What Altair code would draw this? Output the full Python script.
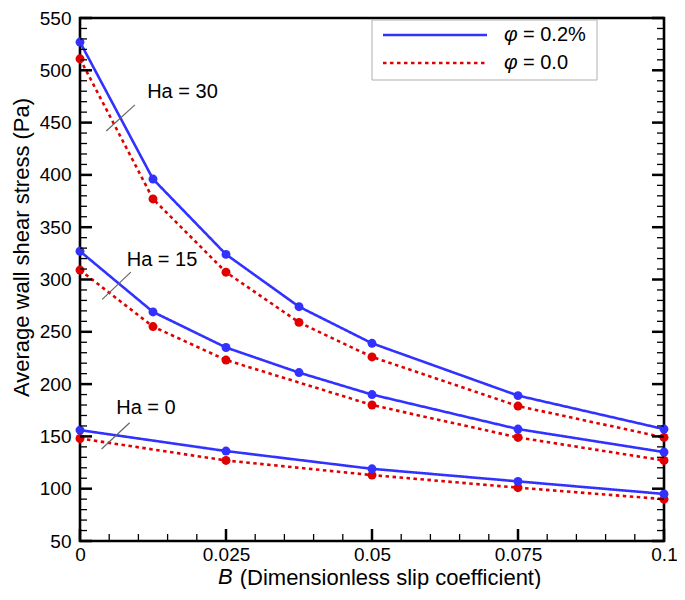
import altair as alt
import pandas as pd

# ---- data ----
B_full = [0, 0.0125, 0.025, 0.0375, 0.05, 0.075, 0.1]
B_ha15_base = [0, 0.0125, 0.025, 0.05, 0.075, 0.1]
B_ha0 = [0, 0.025, 0.05, 0.075, 0.1]

ha30_np = [527, 396, 324, 274, 239, 189, 157]
ha30_base = [511, 377, 307, 259, 226, 179, 149]
ha15_np = [327, 269, 235, 211, 190, 157, 135]
ha15_base = [309, 255, 223, 180, 149, 127]
ha0_np = [156, 136, 119, 107, 95]
ha0_base = [148, 127, 113, 101, 90]

series_names = ["φ = 0.2%", "φ = 0.0"]
series_colors = ["#3232ff", "#e00000"]

# annotations (data coordinates)
ann_labels = ["Ha = 30", "Ha = 15", "Ha = 0"]
ann_text_B = [0.0115, 0.0080, 0.0062]
ann_text_y = [479, 319, 177]
lead_B1 = [0.0045, 0.0038, 0.0037]
lead_y1 = [442, 281, 138]
lead_B2 = [0.0094, 0.0087, 0.0085]
lead_y2 = [467, 307, 163]

y_major = list(range(50, 551, 50))
y_minor = [v for v in range(50, 551, 10) if v % 50 != 0]
x_major = [0, 0.025, 0.05, 0.075, 0.1]
x_minor = [round(i * 0.005, 3) for i in range(21) if i % 5 != 0]

# ---- build tables ----
rows = []
for ha, name, xs_, ys_ in [
    ("30", series_names[1], B_full, ha30_base),
    ("15", series_names[1], B_ha15_base, ha15_base),
    ("0", series_names[1], B_ha0, ha0_base),
    ("30", series_names[0], B_full, ha30_np),
    ("15", series_names[0], B_full, ha15_np),
    ("0", series_names[0], B_ha0, ha0_np),
]:
    for b, s in zip(xs_, ys_):
        rows.append({"B": b, "stress": s, "Ha": ha, "series": name})
df = pd.DataFrame(rows)

ann = pd.DataFrame({"label": ann_labels, "B": ann_text_B, "stress": ann_text_y})
lead = pd.DataFrame({"B": lead_B1, "stress": lead_y1, "B2": lead_B2, "stress2": lead_y2})

W, H = 584, 523
FONT = "Liberation Sans"

xs = alt.Scale(domain=[0, 0.1], nice=False, zero=False)
ys = alt.Scale(domain=[50, 550], nice=False, zero=False)

xaxis = alt.Axis(values=x_major, labelExpr="format(datum.value, '~g')",
                 ticks=False, domain=False, grid=False, labelFlush=False,
                 labelFontSize=19, labelPadding=4, labelColor="black",
                 title="(Dimensionless slip coefficient)", titleFontSize=22,
                 titleFontWeight="normal", titleColor="black",
                 titleX=310, titleY=36, titleAlign="center", titleBaseline="middle")
yaxis = alt.Axis(values=y_major, ticks=False, domain=False, grid=False, labelFlush=False,
                 labelFontSize=19, labelPadding=9, labelColor="black",
                 title="Average wall shear stress (Pa)", titleFontSize=22,
                 titleFontWeight="normal", titleColor="black",
                 titleX=-59, titleY=229, titleAngle=270,
                 titleAlign="center", titleBaseline="middle")

X = alt.X("B:Q", scale=xs, axis=xaxis)
Y = alt.Y("stress:Q", scale=ys, axis=yaxis)

color = alt.Color("series:N", scale=alt.Scale(domain=series_names, range=series_colors), legend=None)
dash = alt.StrokeDash("series:N", scale=alt.Scale(domain=series_names, range=[[1, 0], [3.5, 3.5]]), legend=None)

lines = alt.Chart(df).mark_line(strokeWidth=2.6).encode(
    x=X, y=Y, color=color, strokeDash=dash, detail="Ha:N",
    order=alt.Order("B:Q"))
points = alt.Chart(df).mark_circle(size=80, opacity=1).encode(x=X, y=Y, color=color)

# tick marks (inward)
ymaj = pd.DataFrame({"stress": y_major})
ymin = pd.DataFrame({"stress": y_minor})
xmaj = pd.DataFrame({"B": x_major})
xmin = pd.DataFrame({"B": x_minor})

tick_layers = []
for d, ln, sw in [(ymaj, 12, 2.5), (ymin, 7, 1.3)]:
    tick_layers.append(alt.Chart(d).mark_rule(color="black", strokeWidth=sw).encode(
        y=Y, x=alt.value(0), x2=alt.value(ln)))
    tick_layers.append(alt.Chart(d).mark_rule(color="black", strokeWidth=sw).encode(
        y=Y, x=alt.value(W - ln), x2=alt.value(W)))
for d, ln, sw in [(xmaj, 12, 2.5), (xmin, 7, 1.3)]:
    tick_layers.append(alt.Chart(d).mark_rule(color="black", strokeWidth=sw).encode(
        x=X, y=alt.value(H - ln), y2=alt.value(H)))

leaders = alt.Chart(lead).mark_rule(color="#666666", strokeWidth=1.2).encode(
    x=X, y=Y, x2="B2:Q", y2="stress2:Q")
ann_text = alt.Chart(ann).mark_text(align="left", baseline="middle", fontSize=20,
                                    font=FONT, color="black").encode(x=X, y=Y, text="label:N")

# italic B of the x-axis title
one = pd.DataFrame({"k": [0]})
b_title = alt.Chart(one).mark_text(text="B", fontStyle="italic", fontSize=22, font=FONT,
                                   align="left", baseline="middle", color="black").encode(
    x=alt.value(138), y=alt.value(H + 36))

# legend (manual, for the italic φ)
leg_box = alt.Chart(one).mark_rect(fill="white", stroke="#b0b0b0", strokeWidth=1).encode(
    x=alt.value(292), x2=alt.value(517), y=alt.value(2), y2=alt.value(62))
leg_layers = [leg_box]
leg_vals = ["= 0.2%", "= 0.0"]
for i, (col, dsh, val) in enumerate(zip(series_colors, [[1, 0], [3.5, 3.5]], leg_vals)):
    yy = 17 + 28 * i
    leg_layers.append(alt.Chart(one).mark_rule(color=col, strokeWidth=2.6, strokeDash=dsh).encode(
        x=alt.value(303), x2=alt.value(407), y=alt.value(yy)))
    leg_layers.append(alt.Chart(one).mark_text(text="φ", fontStyle="italic", fontSize=21, font=FONT,
                                               align="left", baseline="middle", color="black").encode(
        x=alt.value(424), y=alt.value(yy)))
    leg_layers.append(alt.Chart(one).mark_text(text=val, fontSize=20, font=FONT,
                                               align="left", baseline="middle", color="black").encode(
        x=alt.value(443), y=alt.value(yy)))

chart = alt.layer(lines, points, *tick_layers, leaders, ann_text, b_title, *leg_layers).properties(
    width=W, height=H,
    autosize=alt.AutoSizeParams(type="none"),
    padding={"left": 72, "top": 10, "right": 13, "bottom": 48},
).configure_view(stroke="black", strokeWidth=2.6).configure_axis(
    labelFont=FONT, titleFont=FONT).configure_text(font=FONT)

chart.save("out.html", embed_options={"renderer": "svg", "actions": False})
